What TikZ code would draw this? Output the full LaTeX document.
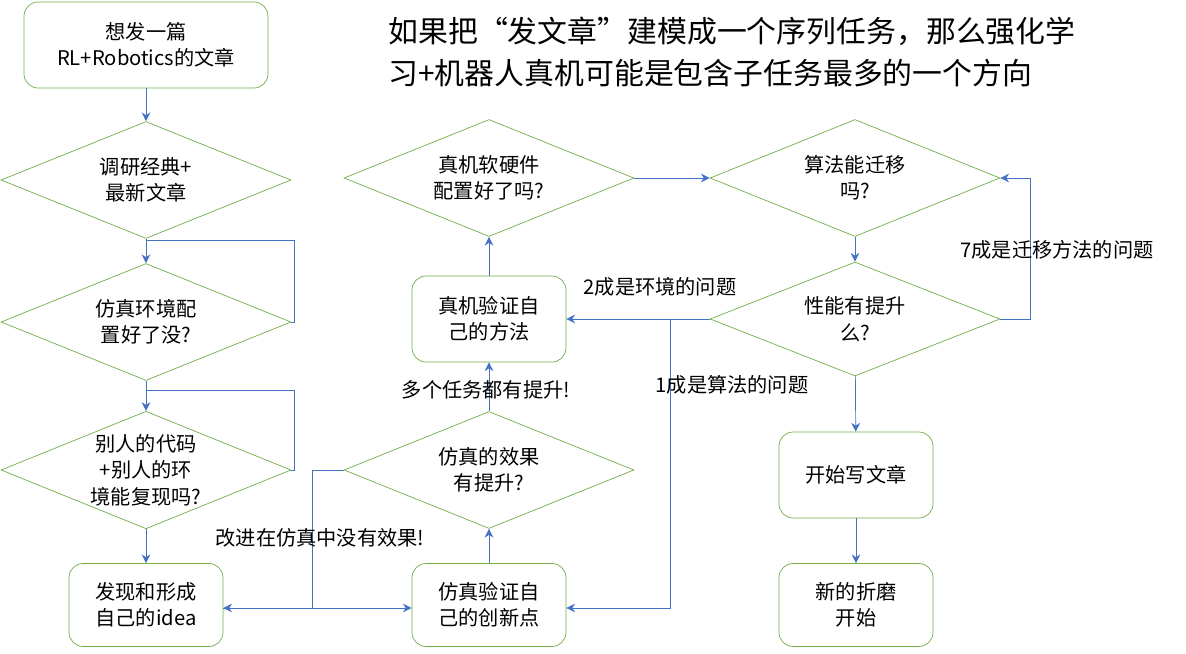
\documentclass[tikz,border=0pt]{standalone}
\usepackage{fontspec}
\setmainfont{Noto Sans CJK SC}
\usetikzlibrary{shapes.geometric,arrows.meta}
\definecolor{boxgreen}{RGB}{112,173,71}
\definecolor{lineblue}{RGB}{68,114,196}
\tikzset{
  roundbox/.style={draw=boxgreen, rounded corners=8pt, minimum width=3.08cm, minimum height=1.66cm, align=center, font=\fontsize{11.5}{15}\selectfont},
  choice/.style={draw=boxgreen, diamond, aspect=2.4, inner sep=0pt, minimum width=5.8cm, minimum height=2.34cm, align=center, font=\fontsize{11.5}{15}\selectfont},
  flow/.style={draw=lineblue, -{Stealth[length=5pt,width=5pt]}},
  note/.style={font=\fontsize{11.5}{15}\selectfont}
}
\begin{document}
\begin{tikzpicture}[x=0.02cm, y=-0.02cm]
    \useasboundingbox (0, 0) rectangle (1186, 653);
        \node [roundbox, minimum width=4.88cm, minimum height=1.72cm] (start) at (146, 45) {想发一篇\\RL+Robotics的文章};
        \node [choice] (survey) at (146, 180) {调研经典+\\最新文章};
        \node [choice] (simenv) at (146, 322) {仿真环境配\\置好了没?};
        \node [choice] (reproduce) at (146, 470) {别人的代码\\+别人的环\\境能复现吗?};
        \node [roundbox] (idea) at (146, 605) {发现和形成\\自己的idea};
        \node [roundbox] (simtest) at (489, 605) {仿真验证自\\己的创新点};
        \node [choice] (simgain) at (489, 470) {仿真的效果\\有提升?};
        \node [roundbox, minimum height=1.72cm] (realtest) at (489, 319) {真机验证自\\己的方法};
        \node [choice] (realsetup) at (489, 178) {真机软硬件\\配置好了吗?};
        \node [choice] (transfer) at (855, 178) {算法能迁移\\吗?};
        \node [choice, minimum height=2.28cm] (realgain) at (855, 319) {性能有提升\\么?};
        \node [roundbox, minimum height=1.72cm] (write) at (856, 475) {开始写文章};
        \node [roundbox] (torture) at (856, 605) {新的折磨\\开始};
        \node [align=left, font=\fontsize{17}{24}\selectfont] (title) at (732, 52) {如果把“发文章”建模成一个序列任务，那么强化学\\习+机器人真机可能是包含子任务最多的一个方向};
        \coordinate (loopa) at (294, 240);
        \coordinate (loopb) at (294, 390);
        \coordinate (split) at (312, 608);
        \coordinate (back) at (670, 319);
        \coordinate (right) at (1030, 319);
        % left column
        \draw[flow] (start) -- (survey);
        \draw[flow] (survey) -- (simenv);
        \draw[flow] (simenv) -- (reproduce);
        \draw[flow] (reproduce) -- (idea);
        \draw[lineblue] (simenv.east) -| (loopa) -- (loopa -| survey.south);
        \draw[lineblue] (reproduce.east) -| (loopb) -- (loopb -| simenv.south);
        % middle column
        \draw[flow] (idea.east |- split) -- (simtest.west |- split);
        \draw[flow] (simgain.west) -| (split) -- (idea.east |- split);
        \draw[flow] (simtest) -- (simgain);
        \draw[flow] (simgain) -- (realtest);
        \draw[flow] (realtest) -- (realsetup);
        \draw[flow] (realsetup) -- (transfer);
        % right column
        \draw[flow] (transfer) -- (realgain);
        \draw[flow] (realgain) -- (write);
        \draw[flow] (write) -- (torture);
        \draw[flow] (realgain.east) -- (right) |- (transfer.east);
        \draw[flow] (realgain.west) -- (realtest.east);
        \draw[flow] (back) |- (simtest.east |- split);
        % labels
        \node [note] at (320, 538) {改进在仿真中没有效果!};
        \node [note] at (486, 390) {多个任务都有提升!};
        \node [note] at (660, 287) {2成是环境的问题};
        \node [note] at (732, 385) {1成是算法的问题};
        \node [note] at (1057, 250) {7成是迁移方法的问题};
    \end{tikzpicture}
\end{document}
